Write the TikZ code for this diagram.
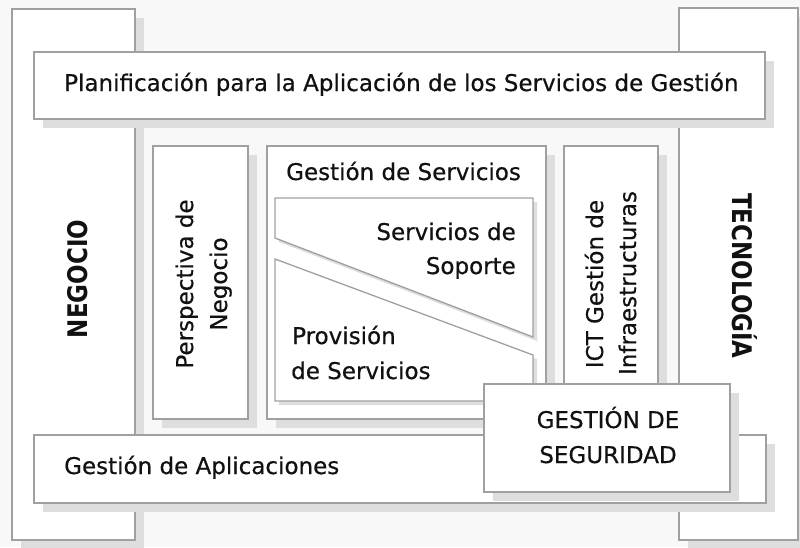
\documentclass[tikz,border=0pt]{standalone}
\usepackage{fontspec}
\setmainfont{DejaVu Sans}[FakeBold=0.4]
\newfontfamily\rgfont{DejaVu Sans}[FakeBold=0.5]
\newfontfamily\hdfont{DejaVu Sans}[FakeStretch=0.85]
\usetikzlibrary{shadows,fit}
\definecolor{bg}{HTML}{F8F8F8}
\definecolor{sh}{HTML}{DEDEDE}
\definecolor{bd}{HTML}{A0A0A0}
\definecolor{tx}{HTML}{111111}
\begin{document}
\begin{tikzpicture}[x=1pt,y=-1pt,
  box/.style={draw=bd, line width=1.3pt, fill=white, inner sep=0pt,
    drop shadow={shadow xshift=9pt, shadow yshift=-9pt, fill=sh, opacity=1}},
  ibox/.style={draw=bd, line width=1.3pt, fill=white,
    drop shadow={shadow xshift=4pt, shadow yshift=-4pt, fill=sh, opacity=1}},
  lbl/.style={text=tx, inner sep=0pt, font=\rgfont\fontsize{23}{27}\selectfont},
  big/.style={text=tx, inner sep=0pt, font=\hdfont\bfseries\fontsize{27}{30}\selectfont}]
\fill[bg] (0,0) rectangle (800,547);
\useasboundingbox (0,0) rectangle (800,547);
% outer columns
\node[box, fit={(12,9) (135,540)}] (neg) {};
\node[box, fit={(679,8) (798,540)}] (tec) {};
% bands
\node[box, fit={(34,52) (765,119)}] (plan) {};
\node[box, fit={(34,435) (766,503)}] (apl) {};
% inner columns
\node[box, fit={(153,146) (248,419)}] (per) {};
\node[box, fit={(267,146) (546,419)}] (gs) {};
\draw[ibox] (275,198) coordinate (s1) -- (533,198) -- (533,337) -- (275,238) -- cycle;
\draw[ibox] (275,259) coordinate (p1) -- (533,355) -- (533,401) -- (275,401) -- cycle;
\node[box, fit={(564,146) (658,419)}] (ict) {};
\node[box, fit={(484,384) (730,492)}] (seg) {};
% texts
\node[lbl, anchor=base west] (tplan) at (64,91) {Planificación para la Aplicación de los Servicios de Gestión};
\node[lbl, anchor=base west] (tapl) at (64,474) {Gestión de Aplicaciones};
\node[lbl, anchor=base west] (tgs) at (286,180) {Gestión de Servicios};
\node[lbl, anchor=base east] (tsop1) at (516,240) {Servicios de};
\node[lbl, anchor=base east] (tsop2) at (516,274) {Soporte};
\node[lbl, anchor=base west] (tprov1) at (292,344) {Provisión};
\node[lbl, anchor=base west] (tprov2) at (291,379) {de Servicios};
\node[lbl, anchor=base] (tseg1) at (608,428) {GESTIÓN DE};
\node[lbl, anchor=base] (tseg2) at (608,463) {SEGURIDAD};
\node[lbl, anchor=base, rotate=90] (tper1) at (193,284) {Perspectiva de};
\node[lbl, anchor=base, rotate=90] (tper2) at (227,284) {Negocio};
\node[lbl, anchor=base, rotate=90] (tict1) at (603,284) {ICT Gestión de};
\node[lbl, anchor=base, rotate=90] (tict2) at (636,283) {Infraestructuras};
\node[big, anchor=base, rotate=90] (tneg) at (87,279) {NEGOCIO};
\node[big, anchor=base, rotate=-90] (ttec) at (732,276) {TECNOLOGÍA};
\end{tikzpicture}
\end{document}
